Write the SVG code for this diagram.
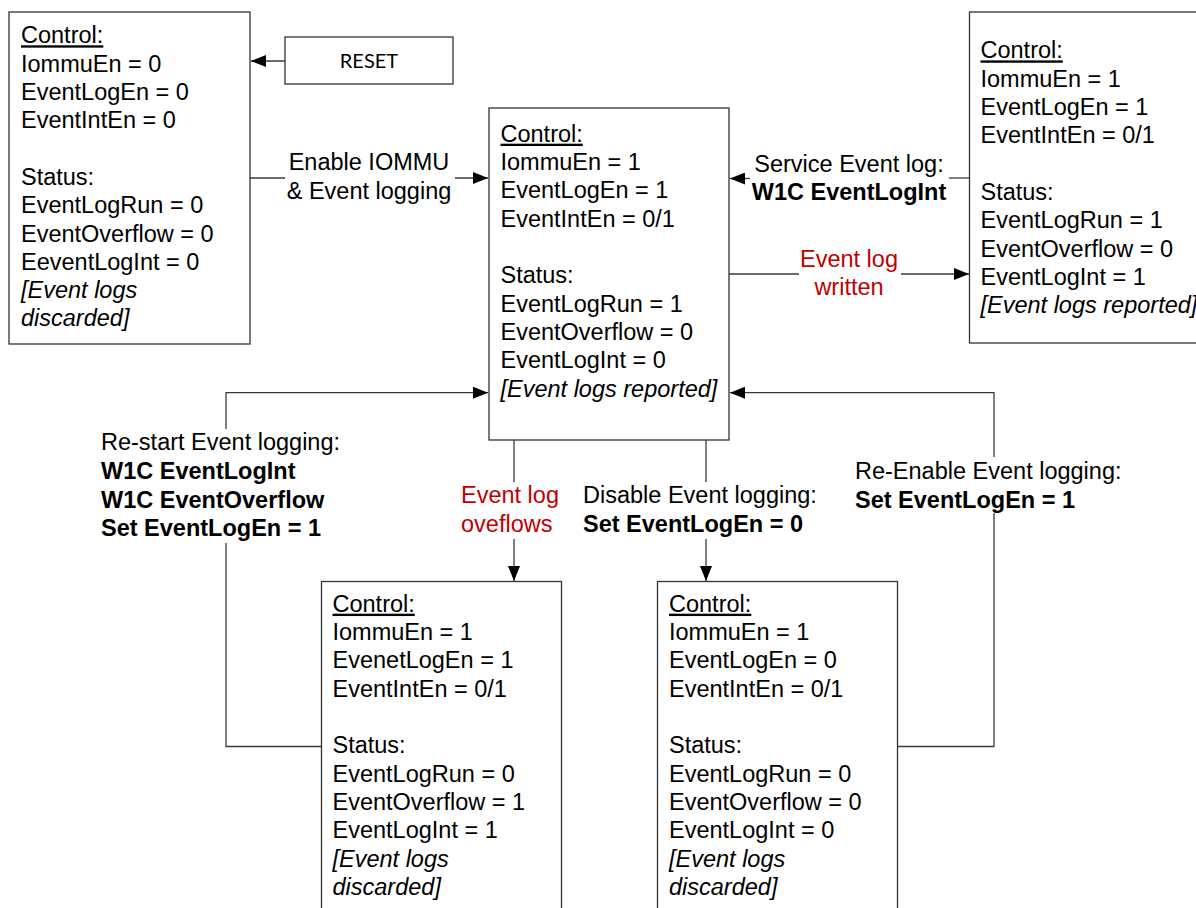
<svg xmlns="http://www.w3.org/2000/svg" width="1196" height="908" viewBox="0 0 1196 908">
<defs>
<style>
.box{fill:#fff;stroke:#333;stroke-width:1.3}
.t{font-family:"Liberation Sans",Arial,sans-serif;font-size:23.5px;fill:#000}
.b{font-weight:bold}
.i{font-style:italic}
.u{text-decoration:underline}
.red{fill:#c00000}
.c{text-anchor:middle}
.ln{fill:none;stroke:#3a3a3a;stroke-width:1.3}
.rs{font-family:Lato,"Liberation Sans",sans-serif;font-size:20px;fill:#000;text-anchor:middle}
</style>
<marker id="ah" markerUnits="userSpaceOnUse" markerWidth="15" markerHeight="12" refX="15" refY="6" orient="auto">
<path d="M0,0 L15,6 L0,12 z" fill="#000"/>
</marker>
</defs>
<rect width="1196" height="908" fill="#fff"/>

<g id="connectors">
<path class="ln" d="M285,61 H251" marker-end="url(#ah)"/>
<path class="ln" d="M250,178 H285"/>
<path class="ln" d="M455,178 H488" marker-end="url(#ah)"/>
<path class="ln" d="M969,178 H949"/>
<path class="ln" d="M750,178.5 H730" marker-end="url(#ah)"/>
<path class="ln" d="M729,274 H799"/>
<path class="ln" d="M901,274 H969" marker-end="url(#ah)"/>
<path class="ln" d="M321,746.5 H226 V543"/>
<path class="ln" d="M226,429 V392.7 H488" marker-end="url(#ah)"/>
<path class="ln" d="M514,440 V482"/>
<path class="ln" d="M514,539 V581" marker-end="url(#ah)"/>
<path class="ln" d="M706,440 V482"/>
<path class="ln" d="M706,539 V581" marker-end="url(#ah)"/>
<path class="ln" d="M897,746.5 H994 V513"/>
<path class="ln" d="M994,457 V392.7 H730" marker-end="url(#ah)"/>
<text class="t c" x="369" y="170">Enable IOMMU</text>
<text class="t c" x="369" y="199.3">&amp; Event logging</text>
<text class="t c" x="849" y="171.7">Service Event log:</text>
<text class="t c b" x="849" y="200">W1C EventLogInt</text>
<text class="t c red" x="849" y="266.7">Event log</text>
<text class="t c red" x="849" y="295">written</text>
<text class="t" x="101" y="450">Re-start Event logging:</text>
<text class="t b" x="101" y="479.3">W1C EventLogInt</text>
<text class="t b" x="101" y="507.6">W1C EventOverflow</text>
<text class="t b" x="101" y="536">Set EventLogEn = 1</text>
<text class="t red" x="461" y="503.3">Event log</text>
<text class="t red" x="461" y="531.7">oveflows</text>
<text class="t" x="583" y="503.3">Disable Event logging:</text>
<text class="t b" x="583" y="531.7">Set EventLogEn = 0</text>
<text class="t" x="855" y="479.3">Re-Enable Event logging:</text>
<text class="t b" x="855" y="507.6">Set EventLogEn = 1</text>
</g>

<g id="reset">
<rect class="box" x="285" y="37" width="168" height="47"/>
<text class="rs" x="369" y="68">RESET</text>
</g>

<g id="state-reset">
<rect class="box" x="9" y="12" width="241" height="332"/>
<text class="t u" x="21" y="43.3">Control:</text>
<text class="t" x="21" y="71.7">IommuEn = 0</text>
<text class="t" x="21" y="100">EventLogEn = 0</text>
<text class="t" x="21" y="128.3">EventIntEn = 0</text>
<text class="t" x="21" y="185">Status:</text>
<text class="t" x="21" y="213.3">EventLogRun = 0</text>
<text class="t" x="21" y="241.7">EventOverflow = 0</text>
<text class="t" x="21" y="270">EeventLogInt = 0</text>
<text class="t i" x="21" y="298">[Event logs</text>
<text class="t i" x="21" y="326.3">discarded]</text>
</g>

<g id="state-running">
<rect class="box" x="489" y="108" width="240" height="332"/>
<text class="t u" x="500.5" y="141.7">Control:</text>
<text class="t" x="500.5" y="170">IommuEn = 1</text>
<text class="t" x="500.5" y="198.4">EventLogEn = 1</text>
<text class="t" x="500.5" y="226.7">EventIntEn = 0/1</text>
<text class="t" x="500.5" y="283.4">Status:</text>
<text class="t" x="500.5" y="311.7">EventLogRun = 1</text>
<text class="t" x="500.5" y="340">EventOverflow = 0</text>
<text class="t" x="500.5" y="368.4">EventLogInt = 0</text>
<text class="t i" x="500.5" y="396.7">[Event logs reported]</text>
</g>

<g id="state-interrupt">
<rect class="box" x="969.5" y="12" width="240" height="331"/>
<text class="t u" x="980.5" y="58.4">Control:</text>
<text class="t" x="980.5" y="86.7">IommuEn = 1</text>
<text class="t" x="980.5" y="115.1">EventLogEn = 1</text>
<text class="t" x="980.5" y="143.4">EventIntEn = 0/1</text>
<text class="t" x="980.5" y="200.1">Status:</text>
<text class="t" x="980.5" y="228.4">EventLogRun = 1</text>
<text class="t" x="980.5" y="256.8">EventOverflow = 0</text>
<text class="t" x="980.5" y="285.1">EventLogInt = 1</text>
<text class="t i" x="980.5" y="313.4">[Event logs reported]</text>
</g>

<g id="state-overflow">
<rect class="box" x="321.5" y="581.5" width="240" height="340"/>
<text class="t u" x="332.5" y="611.7">Control:</text>
<text class="t" x="332.5" y="640">IommuEn = 1</text>
<text class="t" x="332.5" y="668.4">EvenetLogEn = 1</text>
<text class="t" x="332.5" y="696.7">EventIntEn = 0/1</text>
<text class="t" x="332.5" y="753.4">Status:</text>
<text class="t" x="332.5" y="781.7">EventLogRun = 0</text>
<text class="t" x="332.5" y="810">EventOverflow = 1</text>
<text class="t" x="332.5" y="838.4">EventLogInt = 1</text>
<text class="t i" x="332.5" y="866.7">[Event logs</text>
<text class="t i" x="332.5" y="895">discarded]</text>
</g>

<g id="state-disabled">
<rect class="box" x="657.5" y="581.5" width="240" height="340"/>
<text class="t u" x="669" y="611.7">Control:</text>
<text class="t" x="669" y="640">IommuEn = 1</text>
<text class="t" x="669" y="668.4">EventLogEn = 0</text>
<text class="t" x="669" y="696.7">EventIntEn = 0/1</text>
<text class="t" x="669" y="753.4">Status:</text>
<text class="t" x="669" y="781.7">EventLogRun = 0</text>
<text class="t" x="669" y="810">EventOverflow = 0</text>
<text class="t" x="669" y="838.4">EventLogInt = 0</text>
<text class="t i" x="669" y="866.7">[Event logs</text>
<text class="t i" x="669" y="895">discarded]</text>
</g>
</svg>
